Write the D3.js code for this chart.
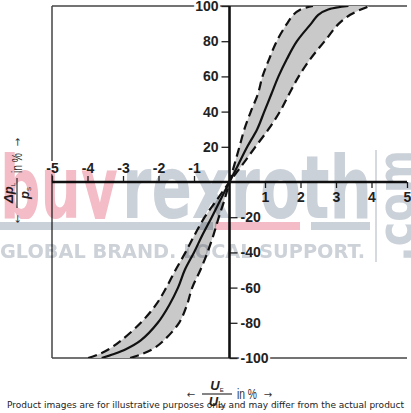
<!DOCTYPE html>
<html>
<head>
<meta charset="utf-8">
<script src="https://cdn.jsdelivr.net/npm/d3@7"></script>
<style>
  html, body { margin: 0; padding: 0; background: #fff; }
  svg { display: block; }
  .tick text { font-family: "Liberation Sans", Arial, sans-serif; font-weight: bold; font-size: 14px; fill: #222; }
  .tick line { stroke: #222; stroke-width: 1.3; }
</style>
</head>
<body>
<svg id="chart" width="411" height="413"></svg>
<script>
'use strict';

// pressure ratio levels (vertical axis, %)
var dpLevels = [-100, -98, -95, -90, -80, -70, -60, -50, -40, -30, -20, -10, 0,
                10, 20, 30, 40, 50, 60, 70, 80, 90, 95, 98, 100];
// command ratio (horizontal axis, %) for each band edge and the mean curve
var steepEdge = [-2.8, -2.5, -2.17, -1.85, -1.42, -1.2, -1.05, -0.82, -0.62, -0.45, -0.3, -0.14, 0,
                 0.14, 0.28, 0.42, 0.6, 0.8, 0.93, 1.12, 1.33, 1.62, 1.8, 2.0, 2.35];
var meanCurve = [-3.6, -3.3, -2.92, -2.5, -2.02, -1.7, -1.45, -1.26, -1.0, -0.76, -0.5, -0.25, 0,
                 0.25, 0.5, 0.78, 0.98, 1.18, 1.38, 1.62, 1.9, 2.3, 2.5, 2.78, 3.35];
var shallowEdge = [-3.98, -3.7, -3.4, -3.05, -2.5, -2.08, -1.78, -1.52, -1.24, -0.98, -0.7, -0.35, 0,
                   0.37, 0.73, 1.1, 1.42, 1.68, 1.95, 2.28, 2.68, 3.08, 3.4, 3.7, 3.95];

var xTicksNeg = [-5, -4, -3, -2, -1];
var xTicksPos = [1, 2, 3, 4, 5];
var yTicksPos = [20, 40, 60, 80, 100];
var yTicksNeg = [-20, -40, -60, -80, -100];

var svg = d3.select("#chart");

var x = d3.scaleLinear().domain([-5, 5]).range([52, 407]);
var y = d3.scaleLinear().domain([-100, 100]).range([358, 6]);

var rows = dpLevels.map(function(dp, i) {
    return { dp: dp, steep: steepEdge[i], mean: meanCurve[i], shallow: shallowEdge[i] };
});

var defs = svg.append("defs");
defs.append("clipPath").attr("id", "plot")
    .append("rect").attr("x", x(-5)).attr("y", y(100)).attr("width", x(5) - x(-5)).attr("height", y(-100) - y(100));

// frame
var frame = svg.append("g").attr("stroke", "#444").attr("stroke-width", 1.5).attr("fill", "none");
frame.append("line").attr("x1", x(-5)).attr("x2", x(5)).attr("y1", y(100)).attr("y2", y(100));
frame.append("line").attr("x1", x(-5)).attr("x2", x(5)).attr("y1", y(-100)).attr("y2", y(-100));
frame.append("line").attr("x1", x(-5)).attr("x2", x(-5)).attr("y1", y(100)).attr("y2", y(-100));

// band + curves
var smooth = d3.curveCatmullRom.alpha(0.5);
var band = d3.area()
    .y(function(d) { return y(d.dp); })
    .x0(function(d) { return x(d.steep); })
    .x1(function(d) { return x(d.shallow); })
    .curve(smooth);

var lineOf = function(key) {
    return d3.line()
        .x(function(d) { return x(d[key]); })
        .y(function(d) { return y(d.dp); })
        .curve(smooth);
};

var plot = svg.append("g").attr("clip-path", "url(#plot)");
plot.append("path").datum(rows).attr("d", band).attr("fill", "#c9c9c9");
plot.append("path").datum(rows).attr("d", lineOf("steep"))
    .attr("fill", "none").attr("stroke", "#111").attr("stroke-width", 2.2).attr("stroke-dasharray", "9,5");
plot.append("path").datum(rows).attr("d", lineOf("shallow"))
    .attr("fill", "none").attr("stroke", "#111").attr("stroke-width", 2.2).attr("stroke-dasharray", "9,5");
plot.append("path").datum(rows).attr("d", lineOf("mean"))
    .attr("fill", "none").attr("stroke", "#111").attr("stroke-width", 2.2);

// axes through the origin
var fmt = function(d) { return String(d); };
var gxN = svg.append("g").attr("transform", "translate(0," + y(0) + ")")
    .call(d3.axisTop(x).tickValues(xTicksNeg).tickSize(6).tickPadding(3).tickFormat(fmt));
var gxP = svg.append("g").attr("transform", "translate(0," + y(0) + ")")
    .call(d3.axisBottom(x).tickValues(xTicksPos).tickSize(6).tickPadding(4).tickFormat(fmt));
var gyP = svg.append("g").attr("transform", "translate(" + x(0) + ",0)")
    .call(d3.axisLeft(y).tickValues(yTicksPos).tickSize(8).tickPadding(3).tickFormat(fmt));
var gyN = svg.append("g").attr("transform", "translate(" + x(0) + ",0)")
    .call(d3.axisRight(y).tickValues(yTicksNeg).tickSize(8).tickPadding(3).tickFormat(fmt));
[gxN, gxP, gyP, gyN].forEach(function(g) { g.select(".domain").remove(); });

// labels sitting on the frame cut it
svg.selectAll(".tick text")
    .attr("stroke", "#fff").attr("stroke-width", 4).attr("paint-order", "stroke");

svg.append("line").attr("x1", x(-5)).attr("x2", x(5)).attr("y1", y(0)).attr("y2", y(0))
    .attr("stroke", "#111").attr("stroke-width", 2.6);
svg.append("line").attr("x1", x(0)).attr("x2", x(0)).attr("y1", y(100)).attr("y2", y(-100))
    .attr("stroke", "#111").attr("stroke-width", 2.6);

// ratio labels
function ratioLabel(g, num, numSub, den, denSub) {
    var arrow = function(s, xx) {
        return g.append("text").attr("x", xx).attr("y", 4).attr("text-anchor", "middle")
            .attr("font-family", "DejaVu Sans, sans-serif").attr("font-size", 10)
            .attr("fill", "#333").text(s);
    };
    arrow("\u2190", -26);
    arrow("\u2192", 51);
    g.append("text").attr("x", 20).attr("y", 5)
        .attr("font-family", "Liberation Sans, Arial, sans-serif")
        .attr("font-size", 15).attr("textLength", 20).attr("lengthAdjust", "spacingAndGlyphs")
        .attr("fill", "#333").text("in %");
    g.append("line").attr("x1", -15).attr("x2", 15).attr("stroke", "#333").attr("stroke-width", 1.2);
    var frac = function(main, sub, yy) {
        var t = g.append("text").attr("x", 0).attr("y", yy).attr("text-anchor", "middle")
            .attr("font-family", "Liberation Sans, Arial, sans-serif")
            .attr("font-weight", "bold").attr("font-style", "italic").attr("fill", "#222");
        t.append("tspan").attr("font-size", 13).text(main);
        t.append("tspan").attr("font-size", 6).attr("font-weight", "normal").attr("font-style", "normal")
            .attr("dy", 2).text(sub);
    };
    frac(num, numSub, -4);
    frac(den, denSub, 12);
}

ratioLabel(svg.append("g").attr("transform", "translate(217,394)"), "U", "E", "U", "Ex");
ratioLabel(svg.append("g").attr("transform", "translate(17,193) rotate(-90)"), "\u0394p", "L", "p", "S");

// site watermark
defs.append("clipPath").attr("id", "wordmark")
    .append("rect").attr("x", 0).attr("y", 0).attr("width", 411).attr("height", 219);
var wm = svg.append("g").style("mix-blend-mode", "multiply")
    .attr("font-family", "DejaVu Sans, sans-serif").attr("font-weight", "bold");
var word = wm.append("g").attr("clip-path", "url(#wordmark)");
word.append("text").attr("x", 0).attr("y", 218).attr("font-size", 88)
    .attr("textLength", 118).attr("lengthAdjust", "spacingAndGlyphs")
    .attr("fill", "#f3bcc6").text("buy");
word.append("text").attr("x", 122).attr("y", 218).attr("font-size", 88)
    .attr("textLength", 250).attr("lengthAdjust", "spacingAndGlyphs")
    .attr("fill", "#cbd1d9").text("rexroth");
wm.append("rect").attr("x", 375).attr("y", 150).attr("width", 2).attr("height", 112).attr("fill", "#d6dae0");
wm.append("text").attr("transform", "translate(413,262) rotate(-90)").attr("font-size", 50)
    .attr("textLength", 112).attr("lengthAdjust", "spacingAndGlyphs")
    .attr("fill", "#cbd1d9").text(".com");
wm.append("rect").attr("x", 0).attr("y", 222).attr("width", 213).attr("height", 8).attr("fill", "#cbd1d9");
wm.append("rect").attr("x", 215).attr("y", 222).attr("width", 85).attr("height", 8).attr("fill", "#f3bcc6");
wm.append("rect").attr("x", 311).attr("y", 222).attr("width", 59).attr("height", 8).attr("fill", "#cbd1d9");
wm.append("text").attr("x", 0).attr("y", 258).attr("font-size", 20)
    .attr("textLength", 365).attr("lengthAdjust", "spacingAndGlyphs")
    .attr("fill", "#cdd2d9").text("GLOBAL BRAND. LOCAL SUPPORT.");

svg.append("text").attr("x", 205.5).attr("y", 408).attr("text-anchor", "middle")
    .attr("font-family", "DejaVu Sans, sans-serif").attr("font-size", 9).attr("fill", "#222")
    .text("Product images are for illustrative purposes only and may differ from the actual product");
</script>
</body>
</html>
